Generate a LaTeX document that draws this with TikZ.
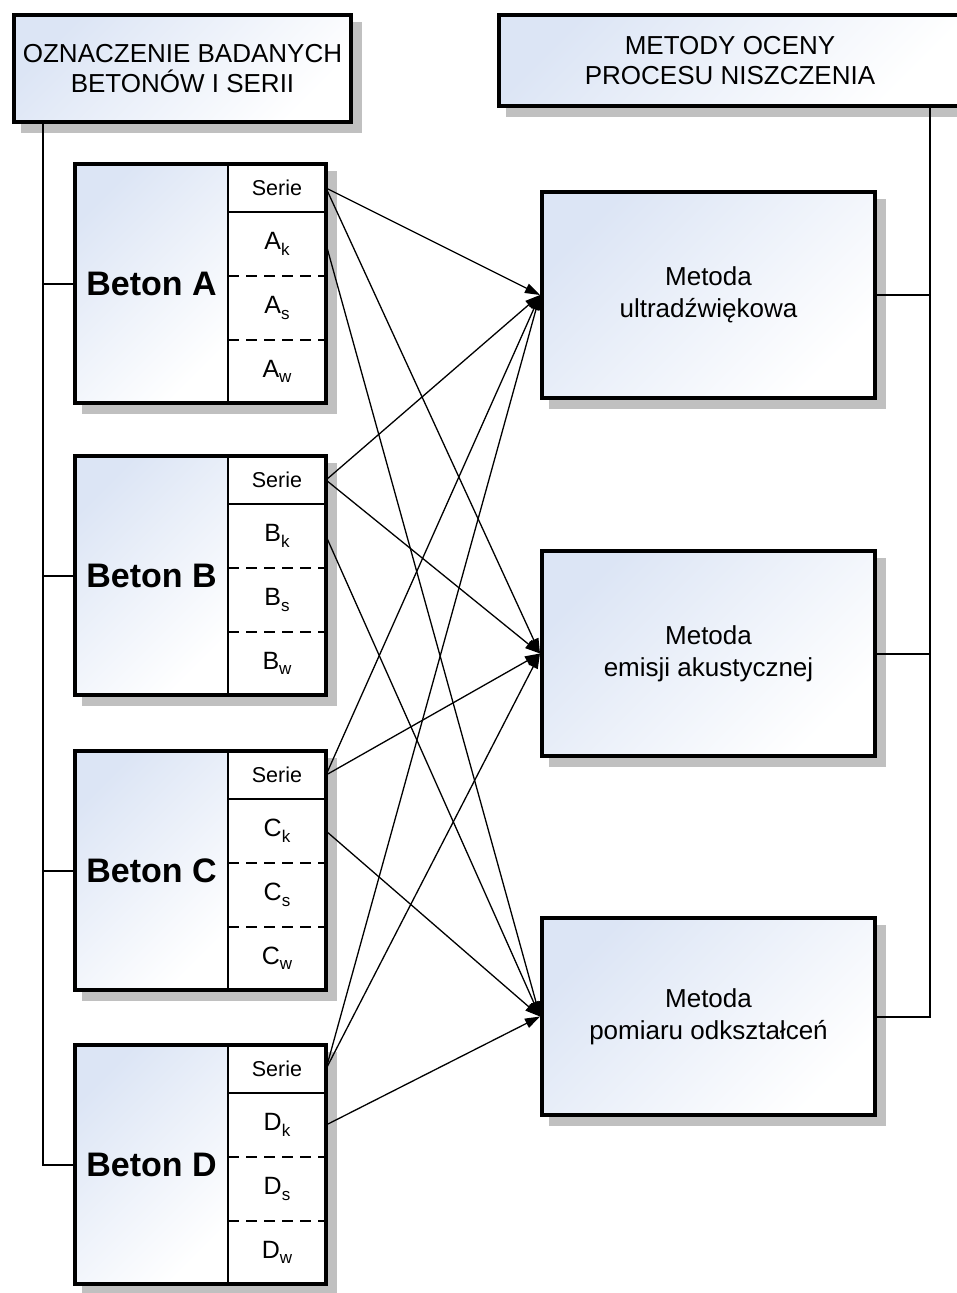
\documentclass[tikz,border=0pt]{standalone}
\usepackage{fontspec}
\setmainfont{Liberation Sans}
\usetikzlibrary{arrows.meta,calc,backgrounds}

\definecolor{boxtint}{RGB}{220,229,245}
\definecolor{shadowgrey}{RGB}{192,192,192}

% subscripted series label, e.g. A_k
\newcommand\serlabel[2]{#1\raisebox{-0.22em}{\fontsize{17}{17}\selectfont #2}}

\tikzset{
  frame/.style={draw=black, line width=4pt},
  tinted/.style={top color=boxtint, bottom color=white, shading angle=45},
  headbox/.style={frame, tinted, rectangle, align=center, inner sep=0pt,
    font=\fontsize{26}{30}\selectfont},
  methodbox/.style={frame, tinted, rectangle, align=center, inner sep=0pt,
    minimum width=333pt, font=\fontsize{26}{32}\selectfont},
  betonpart/.style={tinted, rectangle, inner sep=0pt, outer sep=0pt,
    minimum width=153pt, minimum height=239pt,
    font=\bfseries\fontsize{34}{34}\selectfont},
  cell/.style={fill=white, rectangle, inner sep=0pt, outer sep=0pt,
    minimum width=98pt, font=\fontsize{25}{25}\selectfont},
  sercell/.style={cell, minimum height=48pt, font=\fontsize{21.5}{21.5}\selectfont},
  divider/.style={draw=black, line width=2pt},
  dashdiv/.style={draw=black, line width=2pt, dash pattern=on 11pt off 7pt},
  tree/.style={draw=black, line width=2pt},
  link/.style={draw=black, line width=1.3pt,
    -{Triangle[length=15pt, width=10pt]}},
  shadowfill/.style={fill=shadowgrey},
}

\begin{document}
\begin{tikzpicture}[x=1pt, y=-1pt]
\useasboundingbox (0,0) rectangle (957,1293);
\clip (0,0) rectangle (957,1293);

% headers
\node[headbox, minimum width=337pt, minimum height=107pt] (h1) at (182.5,68.5)
  {OZNACZENIE BADANYCH\\BETONÓW I SERII};
\node[headbox, minimum width=462pt, minimum height=91pt] (h2) at (730,60.5)
  {METODY OCENY\\PROCESU NISZCZENIA};

% method boxes
\node[methodbox, minimum height=206pt] (ultra) at (708.5,295)
  {Metoda\\ultradźwiękowa};
\node[methodbox, minimum height=205pt] (emis) at (708.5,653.5)
  {Metoda\\emisji akustycznej};
\node[methodbox, minimum height=197pt] (pom) at (708.5,1016.5)
  {Metoda\\pomiaru odkształceń};

% concrete blocks with their series
\foreach \L/\T in {A/162,B/454,C/749,D/1043}{
  \node[betonpart] (bet\L) at (151.5,{\T+121.5}) {Beton \L};
  \node[sercell] (ser\L) at (277,{\T+26}) {Serie};
  \node[cell, minimum height=64pt] (k\L) at (277,{\T+82}) {\serlabel{\L}{k}};
  \node[cell, minimum height=64pt] (s\L) at (277,{\T+146}) {\serlabel{\L}{s}};
  \node[cell, minimum height=63pt] (w\L) at (277,{\T+209.5}) {\serlabel{\L}{w}};
  \draw[divider] (bet\L.north east) -- (bet\L.south east);
  \draw[divider] (ser\L.south west) -- (ser\L.south east);
  \draw[dashdiv] (k\L.south west) -- (k\L.south east);
  \draw[dashdiv] (s\L.south west) -- (s\L.south east);
  \draw[frame] (bet\L.north west) rectangle (w\L.south east);
}

% drop shadows
\begin{scope}[on background layer]
  \foreach \n in {h1,h2,ultra,emis,pom}{
    \fill[shadowfill] ($(\n.north west)+(9,9)$) rectangle ($(\n.south east)+(9,9)$);
  }
  \foreach \L in {A,B,C,D}{
    \fill[shadowfill] ($(bet\L.north west)+(7,7)$) rectangle ($(w\L.south east)+(11,11)$);
  }
\end{scope}

% left tree
\coordinate (lt) at (43,124);
\draw[tree] (lt) |- (betD.west);
\foreach \L in {A,B,C}{
  \draw[tree] (lt |- bet\L.west) -- (bet\L.west);
}

% right tree
\coordinate (rt) at (930,108);
\draw[tree] (rt) |- (pom.east);
\draw[tree] (ultra.east) -- (ultra.east -| rt);
\draw[tree] (emis.east) -- (emis.east -| rt);

% series to methods
\foreach \L in {A,B,C,D}{
  \draw[link] (ser\L.east) -- (ultra.west);
  \draw[link] (ser\L.east) -- (emis.west);
  \draw[link] (k\L.east) -- (pom.west);
}
\end{tikzpicture}
\end{document}
